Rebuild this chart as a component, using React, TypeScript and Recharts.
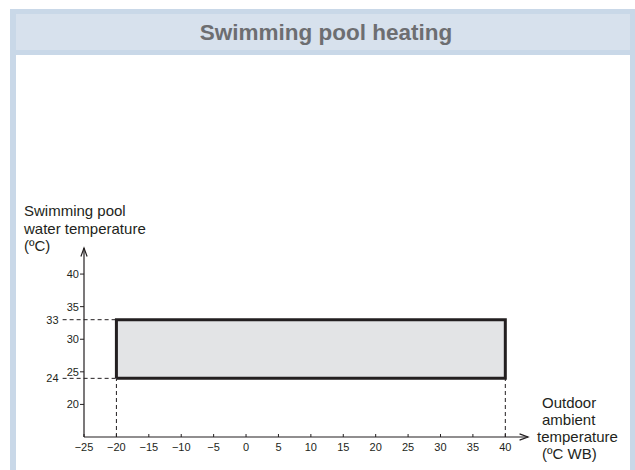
import React from 'react';
import { ComposedChart, Line, XAxis, YAxis, ReferenceArea, ReferenceLine } from 'recharts';

// operating envelope: outdoor ambient (ºC WB) vs pool water (ºC)
const ambientLimits = [-20, 40];
const waterLimits = [24, 33];
const xTicks = [-25, -20, -15, -10, -5, 0, 5, 10, 15, 20, 25, 30, 35, 40];
const yTicks = [20, 25, 30, 35, 40];
const xDomain = [-25, 43.5];
const yDomain = [15, 44];
const guideStart = -28.3;

const envelope = [
  { x: ambientLimits[0], y: waterLimits[0] },
  { x: ambientLimits[1], y: waterLimits[0] },
  { x: ambientLimits[1], y: waterLimits[1] },
  { x: ambientLimits[0], y: waterLimits[1] },
  { x: ambientLimits[0], y: waterLimits[0] },
];

const INK = '#231f20';
const FONT = '"Liberation Sans", Arial, sans-serif';

const fmt = (v: number) => (v < 0 ? '\u2212' + Math.abs(v) : String(v));

function Arrow(props: any) {
  const { x1, y1, x2, y2 } = props;
  const ang = Math.atan2(y2 - y1, x2 - x1);
  const len = 9;
  const spread = 0.35;
  const ax = x2 - len * Math.cos(ang - spread);
  const ay = y2 - len * Math.sin(ang - spread);
  const bx = x2 - len * Math.cos(ang + spread);
  const by = y2 - len * Math.sin(ang + spread);
  return (
    <g>
      <line x1={x1} y1={y1} x2={x2} y2={y2} stroke={INK} strokeWidth={1.2} />
      <polyline points={`${ax},${ay} ${x2},${y2} ${bx},${by}`} fill="none" stroke={INK} strokeWidth={1.2} />
    </g>
  );
}

export default function App() {
  return (
    <div style={{ position: 'fixed', left: 0, top: 0, width: 635, height: 470, background: '#fff', fontFamily: FONT }}>
      {/* frame */}
      <div style={{ position: 'absolute', left: 10, top: 9, width: 625, height: 470, boxSizing: 'border-box',
        borderLeft: '6px solid #c9d8e8', borderRight: '5px solid #c9d8e8', borderTop: '5px solid #c9d8e8' }}>
        <div style={{ height: 34, background: '#d7e1ed', borderBottom: '5px solid #c9d8e8',
          display: 'flex', alignItems: 'center', justifyContent: 'center', paddingLeft: 6, paddingTop: 2,
          boxSizing: 'content-box', color: '#6d6e71', fontWeight: 'bold', fontSize: 22.5 }}>
          Swimming pool heating
        </div>
      </div>

      <div style={{ position: 'absolute', left: 0, top: 0 }}>
        <ComposedChart width={635} height={470} data={envelope}
          margin={{ top: 248, right: 107, bottom: 3, left: 44 }}>
          <XAxis type="number" dataKey="x" domain={xDomain} ticks={xTicks} allowDataOverflow
            axisLine={false} tickLine={{ stroke: INK }} tickSize={-3} tickMargin={9} height={30}
            tickFormatter={fmt} tick={{ fill: INK, fontSize: 11, fontFamily: FONT }} />
          <YAxis type="number" dataKey="y" domain={yDomain} ticks={yTicks} allowDataOverflow
            axisLine={false} tickLine={{ stroke: INK }} tickSize={4} tickMargin={1} width={40}
            tick={{ fill: INK, fontSize: 11, fontFamily: FONT }} />

          <ReferenceArea x1={ambientLimits[0]} x2={ambientLimits[1]} y1={waterLimits[0]} y2={waterLimits[1]}
            fill="#e3e4e6" fillOpacity={1} stroke="none" ifOverflow="visible" />

          {waterLimits.map((w) => (
            <ReferenceLine key={'h' + w} segment={[{ x: guideStart, y: w }, { x: ambientLimits[0], y: w }]}
              stroke={INK} strokeDasharray="4 3" ifOverflow="visible"
              label={{ value: String(w), position: 'left', offset: 4, fill: INK, fontSize: 11, fontFamily: FONT }} />
          ))}
          {ambientLimits.map((a) => (
            <ReferenceLine key={'v' + a} segment={[{ x: a, y: yDomain[0] }, { x: a, y: waterLimits[0] }]}
              stroke={INK} strokeDasharray="4 3" ifOverflow="visible" />
          ))}

          <ReferenceLine segment={[{ x: xDomain[0], y: yDomain[0] }, { x: xDomain[0], y: yDomain[1] }]}
            ifOverflow="visible" shape={Arrow} />
          <ReferenceLine segment={[{ x: xDomain[0], y: yDomain[0] }, { x: xDomain[1], y: yDomain[0] }]}
            ifOverflow="visible" shape={Arrow} />

          <Line dataKey="y" stroke={INK} strokeWidth={3} dot={false} isAnimationActive={false} />
        </ComposedChart>
      </div>

      {/* axis titles */}
      <div style={{ position: 'absolute', left: 24, top: 202, fontSize: 15, lineHeight: '17.5px', color: INK }}>
        Swimming pool<br />water temperature<br />(ºC)
      </div>
      <div style={{ position: 'absolute', left: 542, top: 394, fontSize: 15, lineHeight: '17px', color: INK }}>
        Outdoor<br />ambient<br /><span style={{ marginLeft: -5 }}>temperature</span><br />(ºC WB)
      </div>
    </div>
  );
}
